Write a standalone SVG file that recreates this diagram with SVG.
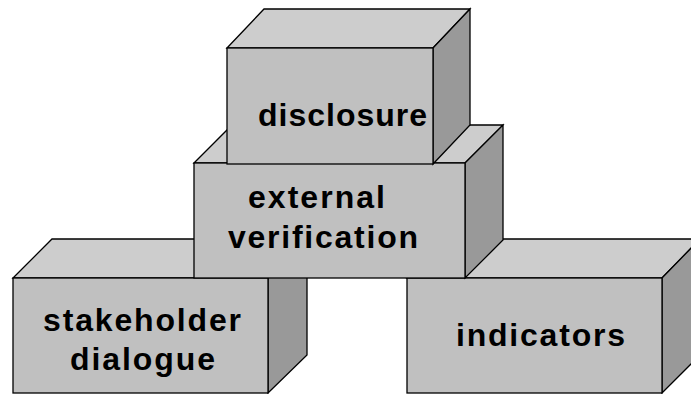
<svg xmlns="http://www.w3.org/2000/svg" width="691" height="394" viewBox="0 0 691 394">
<style>
.front{fill:#c0c0c0;stroke:#000;stroke-width:1.3}
.top{fill:#cdcdcd;stroke:#000;stroke-width:1.3}
.side{fill:#999999;stroke:#000;stroke-width:1.3}
text{font-family:"Liberation Sans",Arial,sans-serif;font-weight:bold;font-size:32px;fill:#000}
</style>
<rect width="691" height="394" fill="#fff"/>
<g id="stakeholder-dialogue">
<polygon class="top" points="13,278 52,239 307,239 268,278"/>
<polygon class="side" points="268,278 307,239 307,355 268,393"/>
<rect class="front" x="13" y="278" width="255" height="115"/>
<text x="43" y="331" textLength="198" lengthAdjust="spacing">stakeholder</text>
<text x="70" y="370" textLength="145" lengthAdjust="spacing">dialogue</text>
</g>
<g id="indicators">
<polygon class="top" points="407,278 445,239 700,239 662,278"/>
<polygon class="side" points="662,278 700,239 700,355 662,393"/>
<rect class="front" x="407" y="278" width="255" height="115"/>
<text x="456" y="346" textLength="169" lengthAdjust="spacing">indicators</text>
</g>
<g id="external-verification">
<polygon class="top" points="194,163 232,125 503,125 465,163"/>
<polygon class="side" points="465,163 503,125 503,240 465,278"/>
<rect class="front" x="194" y="163" width="271" height="115"/>
<text x="248" y="208" textLength="137" lengthAdjust="spacing">external</text>
<text x="228" y="248" textLength="190" lengthAdjust="spacing">verification</text>
</g>
<g id="disclosure">
<polygon class="top" points="227,48 264,9 470,9 433,48"/>
<polygon class="side" points="433,48 470,9 470,125 433,164"/>
<rect class="front" x="227" y="48" width="206" height="116"/>
<text x="258" y="126" textLength="169" lengthAdjust="spacing">disclosure</text>
</g>
<g id="connectors"/>
</svg>
